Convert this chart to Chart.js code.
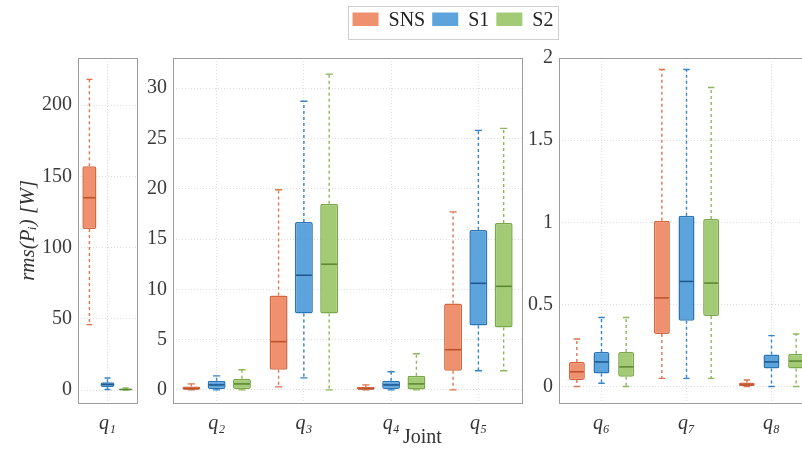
<!DOCTYPE html>
<html><head><meta charset="utf-8">
<script src="https://cdn.jsdelivr.net/npm/chart.js@4.4.0/dist/chart.umd.min.js"></script>
<style>
html,body{margin:0;padding:0;background:#fff;width:802px;height:458px;overflow:hidden;position:relative;}
canvas{position:absolute;top:0;}
#legendBox{position:absolute;left:348px;top:6px;width:209px;height:32px;border:1px solid #cfcfcf;background:#fff;}
#joint{position:absolute;left:403px;top:424px;font:20px 'Liberation Serif',serif;color:#333;line-height:24px;}
</style></head><body>
<div id="legendBox"></div>
<canvas id="c1" width="142" height="458" style="left:0"></canvas>
<canvas id="c2" width="400" height="458" style="left:130px"></canvas>
<canvas id="c3" width="300" height="458" style="left:520px"></canvas>
<canvas id="cl" width="260" height="44" style="left:323px;top:4px"></canvas>
<div id="joint">Joint</div>
<script>
// ---- data ----
const JOINTS = ['q₁','q₂','q₃','q₄','q₅','q₆','q₇','q₈'];
const SERIES = ['SNS','S1','S2'];
// per-series statistics for joints q1..q8
const SNS_MIN = [46, 0, 0.3, 0, 0, 0, 0.05, 0];
const SNS_Q1  = [113, 0, 2.0, 0, 1.9, 0.04, 0.32, 0];
const SNS_MED = [135, 0.1, 4.8, 0.1, 4.0, 0.09, 0.54, 0.01];
const SNS_Q3  = [157, 0.35, 9.4, 0.3, 8.6, 0.15, 1.01, 0.025];
const SNS_MAX = [218, 0.6, 19.9, 0.5, 17.7, 0.29, 1.93, 0.04];

const S1_MIN = [0.5, 0, 1.2, 0, 1.9, 0.02, 0.05, 0];
const S1_Q1  = [2.2, 0.1, 7.6, 0.1, 6.4, 0.08, 0.40, 0.11];
const S1_MED = [4, 0.5, 11.4, 0.5, 10.6, 0.15, 0.64, 0.15];
const S1_Q3  = [5.5, 0.9, 16.7, 0.9, 15.9, 0.21, 1.04, 0.195];
const S1_MAX = [8.5, 1.4, 28.7, 1.8, 25.8, 0.42, 1.93, 0.31];

const S2_MIN = [0, 0, 0, 0, 1.9, 0, 0.05, 0];
const S2_Q1  = [0.2, 0.1, 7.6, 0, 6.2, 0.06, 0.43, 0.11];
const S2_MED = [0.5, 0.6, 12.5, 0.6, 10.3, 0.12, 0.63, 0.155];
const S2_Q3  = [1.0, 1.1, 18.5, 1.4, 16.6, 0.21, 1.02, 0.2];
const S2_MAX = [1.5, 2.0, 31.4, 3.6, 26.0, 0.42, 1.82, 0.32];

const PANEL1_JOINTS = [0];
const PANEL2_JOINTS = [1, 2, 3, 4];
const PANEL3_JOINTS = [5, 6, 7];
const TICKS_P1 = [0, 50, 100, 150, 200];
const TICKS_P2 = [0, 5, 10, 15, 20, 25, 30];
const TICKS_P3 = [0, 0.5, 1, 1.5, 2];

const STATS = [
  {min: SNS_MIN, q1: SNS_Q1, med: SNS_MED, q3: SNS_Q3, max: SNS_MAX},
  {min: S1_MIN, q1: S1_Q1, med: S1_MED, q3: S1_Q3, max: S1_MAX},
  {min: S2_MIN, q1: S2_Q1, med: S2_MED, q3: S2_Q3, max: S2_MAX}
];

// ---- styles ----
const SERIF = "'Liberation Serif', 'DejaVu Serif', serif";
const FILL  = ['rgba(238,135,98,0.92)', 'rgba(78,156,216,0.92)', 'rgba(155,198,105,0.92)'];
const EDGE  = ['#d4673f', '#2b76b6', '#7aa84a'];
const WHISK = ['#dc7650', '#3583c6', '#8ab85a'];
const MEDC  = ['#b9522c', '#1d568a', '#5a8531'];

const boxPlugin = {
  id: 'boxWhisk',
  beforeDatasetsDraw(chart) {
    const a = chart.chartArea, ctx = chart.ctx;
    ctx.save();
    ctx.strokeStyle = '#9c9c9c'; ctx.lineWidth = 1;
    ctx.strokeRect(Math.round(a.left) + 0.5, Math.round(a.top) + 0.5, Math.round(a.right - a.left), Math.round(a.bottom - a.top));
    ctx.restore();
  },
  afterDatasetsDraw(chart) {
    const y = chart.scales.y, ctx = chart.ctx;
    chart.data.datasets.forEach((ds, i) => {
      const meta = chart.getDatasetMeta(i);
      meta.data.forEach((bar, j) => {
        const st = ds.stats;
        const x = bar.x, w = bar.width;
        const pMin = y.getPixelForValue(st.min[j]);
        const pMax = y.getPixelForValue(st.max[j]);
        const pQ1 = y.getPixelForValue(ds.data[j][0]);
        const pQ3 = y.getPixelForValue(ds.data[j][1]);
        const pMed = y.getPixelForValue(st.med[j]);
        ctx.save();
        ctx.strokeStyle = WHISK[i]; ctx.lineWidth = 1.4;
        ctx.setLineDash([3, 3]);
        ctx.beginPath();
        ctx.moveTo(x, pQ3); ctx.lineTo(x, pMax);
        ctx.moveTo(x, pQ1); ctx.lineTo(x, pMin);
        ctx.stroke();
        ctx.setLineDash([]);
        ctx.beginPath();
        const cw = Math.max(3, w * 0.2);
        ctx.moveTo(x - cw, pMax); ctx.lineTo(x + cw, pMax);
        ctx.moveTo(x - cw, pMin); ctx.lineTo(x + cw, pMin);
        ctx.stroke();
        ctx.strokeStyle = MEDC[i]; ctx.lineWidth = 1.5;
        ctx.beginPath();
        ctx.moveTo(x - w / 2 + 1, pMed); ctx.lineTo(x + w / 2 - 1, pMed);
        ctx.stroke();
        ctx.restore();
      });
    });
  }
};

function makePanel(id, joints, yMin, yMax, ticks, o) {
  const datasets = SERIES.map((name, s) => ({
    label: name,
    data: joints.map(j => [STATS[s].q1[j], STATS[s].q3[j]]),
    stats: {min: joints.map(j => STATS[s].min[j]), med: joints.map(j => STATS[s].med[j]), max: joints.map(j => STATS[s].max[j])},
    backgroundColor: FILL[s], borderColor: EDGE[s], borderWidth: 1.5,
    borderSkipped: false, borderRadius: 2,
    categoryPercentage: o.catPct, barPercentage: o.barPct
  }));
  return new Chart(document.getElementById(id), {
    type: 'bar',
    data: {labels: joints.map(j => JOINTS[j]), datasets},
    options: {
      responsive: false, animation: false,
      layout: {padding: {top: 58, right: o.padRight, bottom: 0, left: 0}},
      plugins: {legend: {display: false}, tooltip: {enabled: false}},
      scales: {
        x: {
          offset: true,
          grid: {offset: false, color: '#dedede', drawTicks: false},
          border: {display: false, dash: [1, 2]},
          ticks: {font: {family: SERIF, size: 20, style: 'italic'}, color: '#333', padding: 9},
          afterFit(s) { s.height = 55; }
        },
        y: {
          min: yMin, max: yMax,
          grid: {color: '#dedede', drawTicks: false},
          border: {display: false, dash: [1, 2]},
          ticks: {font: {family: SERIF, size: 20}, color: '#3a3a3a', padding: 6,
                  callback: v => String(v)},
          afterBuildTicks(s) { s.ticks = ticks.map(v => ({value: v})); },
          title: o.title ? {display: true, text: o.title, font: {family: SERIF, size: 21, style: 'italic'}, color: '#333', padding: {top: 16, bottom: 0}} : {display: false},
          afterFit(s) { s.width = o.yWidth; }
        }
      }
    },
    plugins: [boxPlugin]
  });
}

makePanel('c1', PANEL1_JOINTS, -9, 233, TICKS_P1, {yWidth: 78, padRight: 5, catPct: 0.92, barPct: 0.78, title: 'rms(Pᵢ) [W]'});
makePanel('c2', PANEL2_JOINTS, -1.3, 33, TICKS_P2, {yWidth: 43, padRight: 8, catPct: 0.87, barPct: 0.71});
makePanel('c3', PANEL3_JOINTS, -0.1, 2, TICKS_P3, {yWidth: 39, padRight: 6, catPct: 0.87, barPct: 0.65});

new Chart(document.getElementById('cl'), {
  type: 'bar',
  data: {labels: [], datasets: SERIES.map((n, s) => ({label: n, data: [], backgroundColor: FILL[s], borderColor: FILL[s], borderWidth: 0}))},
  options: {
    responsive: false, animation: false,
    layout: {padding: 0},
    scales: {x: {display: false}, y: {display: false}},
    plugins: {
      tooltip: {enabled: false},
      legend: {display: true, labels: {boxWidth: 26, boxHeight: 17, padding: 7, color: '#222', font: {family: SERIF, size: 20}}}
    }
  }
});
</script>
</body></html>
